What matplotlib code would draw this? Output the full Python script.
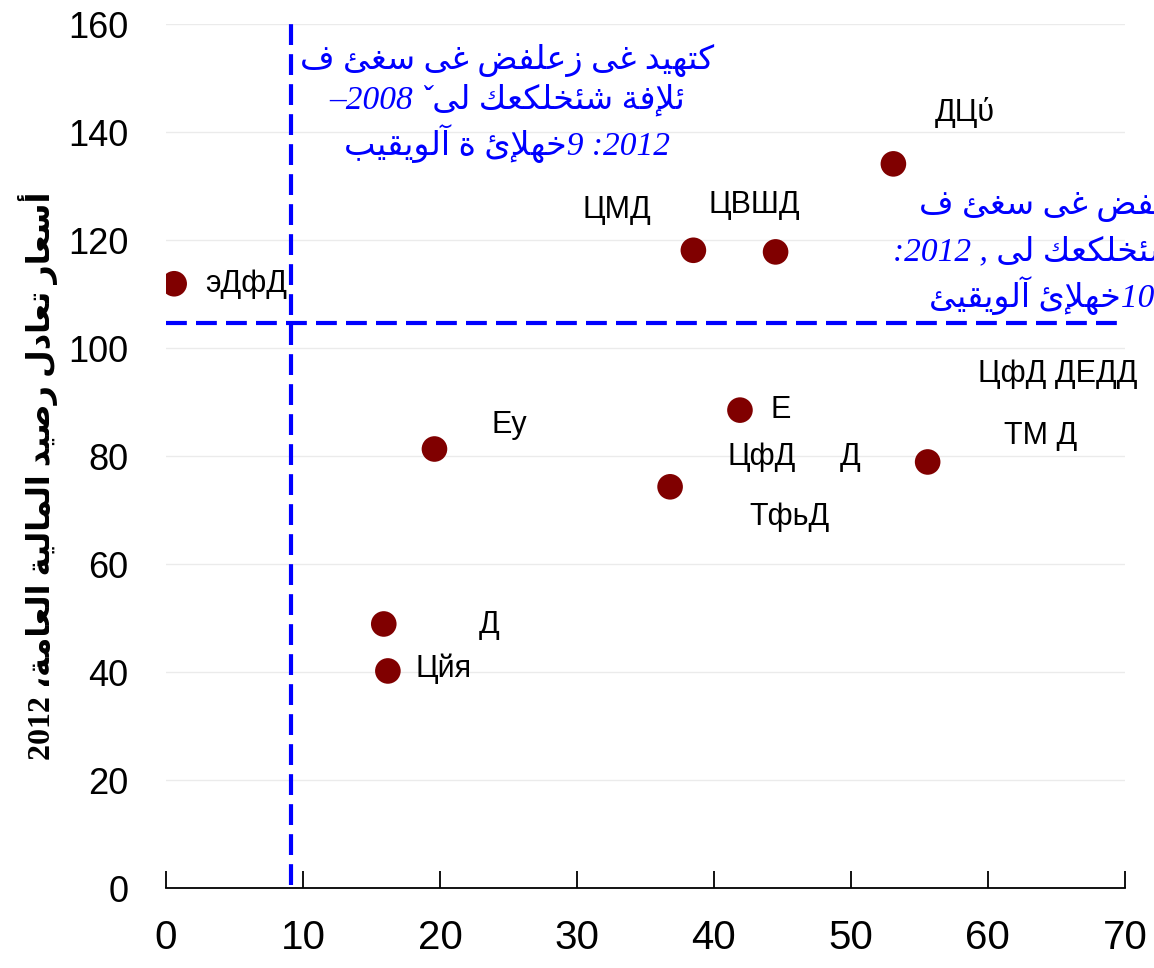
import re
import numpy as np
import matplotlib
matplotlib.use('Agg')
import matplotlib.pyplot as plt
from matplotlib import font_manager as fm

# points (x, y)
x_vals = [0.6, 19.6, 15.9, 16.2, 36.8, 38.5, 44.5, 41.9, 53.1, 55.6]
y_vals = [111.9, 81.3, 48.9, 40.2, 74.3, 118.1, 117.8, 88.5, 134.1, 78.9]

# point labels, as they show in the picture
lab_text = ['эДфД', 'Еу', 'Д', 'Цйя', 'ТфьД', 'ЦМД', 'ЦВШД', 'Е', 'ЦфД', 'Д',
            'ДЦύ', 'ЦфД ДЕДД', 'ТМ Д']
lab_x = [2.85, 23.8, 22.8, 18.2, 42.6, 30.4, 39.6, 44.1, 41.0, 49.2, 56.1, 59.3, 61.2]
lab_y = [111.9, 85.7, 48.7, 40.7, 68.7, 125.6, 126.5, 88.5, 79.8, 79.8, 143.7, 95.2, 83.7]

# reference lines
vline_x = 9.1
hline_y = 104.6

ylabel = 'أسعار تعادل رصيد المالية العامة، 2012'
ann1 = ['كتهيد غى زعلفض غى سغئ ف',
        'ئلإفة شئخلكعك لىˇ 2008–',
        '2012: 9خهلإئ ة آلويقيب']
ann2 = ['كتهيد غى زعلفض غى سغئ ف',
        'ئلإفة شئخلكعك لى , 2012:',
        '105خهلإئ آلويقيئ']

# arabic shaping (presentation forms B), no library for it here
ar_forms = {
    'آ': (0xFE81, 'R'), 'أ': (0xFE83, 'R'), 'ؤ': (0xFE85, 'R'), 'إ': (0xFE87, 'R'),
    'ئ': (0xFE89, 'D'), 'ا': (0xFE8D, 'R'), 'ب': (0xFE8F, 'D'), 'ة': (0xFE93, 'R'),
    'ت': (0xFE95, 'D'), 'ث': (0xFE99, 'D'), 'ج': (0xFE9D, 'D'), 'ح': (0xFEA1, 'D'),
    'خ': (0xFEA5, 'D'), 'د': (0xFEA9, 'R'), 'ذ': (0xFEAB, 'R'), 'ر': (0xFEAD, 'R'),
    'ز': (0xFEAF, 'R'), 'س': (0xFEB1, 'D'), 'ش': (0xFEB5, 'D'), 'ص': (0xFEB9, 'D'),
    'ض': (0xFEBD, 'D'), 'ط': (0xFEC1, 'D'), 'ظ': (0xFEC5, 'D'), 'ع': (0xFEC9, 'D'),
    'غ': (0xFECD, 'D'), 'ف': (0xFED1, 'D'), 'ق': (0xFED5, 'D'), 'ك': (0xFED9, 'D'),
    'ل': (0xFEDD, 'D'), 'م': (0xFEE1, 'D'), 'ن': (0xFEE5, 'D'), 'ه': (0xFEE9, 'D'),
    'و': (0xFEED, 'R'), 'ى': (0xFEEF, 'R'), 'ي': (0xFEF1, 'D'),
}
lam_alef = {'آ': 0xFEF5, 'أ': 0xFEF7, 'إ': 0xFEF9, 'ا': 0xFEFB}


def shape(s):
    out = []
    i = 0
    while i < len(s):
        c = s[i]
        if c not in ar_forms:
            out.append(c)
            i += 1
            continue
        p = s[i - 1] if i > 0 else ''
        jp = p in ar_forms and ar_forms[p][1] == 'D'
        if c == 'ل' and i + 1 < len(s) and s[i + 1] in lam_alef:
            out.append(chr(lam_alef[s[i + 1]] + int(jp)))
            i += 2
            continue
        n = s[i + 1] if i + 1 < len(s) else ''
        jn = ar_forms[c][1] == 'D' and n in ar_forms
        f = 3 if (jp and jn) else 1 if jp else 2 if jn else 0
        out.append(chr(ar_forms[c][0] + f))
        i += 1
    # right to left, numbers stay as they are
    runs = re.findall(r'[0-9]+|.', ''.join(out))
    return ''.join(runs[::-1])


# DejaVu Sans Oblique has no arabic: let the upright file serve italic text too
dv_path = fm.findfont(fm.FontProperties(family='DejaVu Sans'))
fm.fontManager.ttflist.append(fm.FontEntry(fname=dv_path, name='DejaVu Arabic Italic',
                                           style='italic', weight=400))

plt.rcParams['font.family'] = ['Liberation Sans', 'DejaVu Sans']
serif_ar = ['Liberation Serif', 'DejaVu Sans']
serif_ar_it = ['Liberation Serif', 'DejaVu Arabic Italic']

fig = plt.figure(figsize=(11.54, 9.68), dpi=100)
ax = fig.add_axes([0.1438, 0.0826, 0.8310, 0.8926])

ax.scatter(x_vals, y_vals, s=340, color='#800000', edgecolors='none', zorder=3)
for t, lx, ly in zip(lab_text, lab_x, lab_y):
    ax.text(lx, ly, t, fontsize=22, ha='left', va='center', color='black')

ax.axvline(vline_x, ymin=0.5 / 160, ymax=160.8 / 160, color='#0000ff', lw=3,
           linestyle=(0, (5, 2.2)), clip_on=False, zorder=2)
ax.axhline(hline_y, xmin=0, xmax=69.6 / 70, color='#0000ff', lw=3,
           linestyle=(0, (5, 2.2)), zorder=2)

ax.text(24.9, 145.3, '\n'.join(shape(l) for l in ann1), ha='center', va='center',
        multialignment='center', color='#0000ff', fontsize=24, style='italic',
        family=serif_ar_it, linespacing=1.25)
ann2_x = [55.0, 53.1, 55.7]
ann2_y = [126.4, 117.8, 109.8]
for l, tx, ty in zip(ann2, ann2_x, ann2_y):
    ax.text(tx, ty, shape(l), ha='left', va='center', color='#0000ff', fontsize=24,
            style='italic', family=serif_ar_it)

ax.set_xlim(0, 70)
ax.set_ylim(0, 160)
ax.set_xticks(np.arange(0, 71, 10))
ax.set_yticks(np.arange(0, 161, 20))
for sp in ['left', 'right', 'top']:
    ax.spines[sp].set_visible(False)
ax.spines['bottom'].set_linewidth(1.3)
ax.grid(axis='y', color='#ebebeb', lw=1)
ax.set_axisbelow(True)
ax.tick_params(axis='x', direction='in', length=12, width=1.3, pad=22, labelsize=29)
ax.tick_params(axis='y', length=0, pad=27, labelsize=26)

fig.text(0.033, 0.509, shape(ylabel), rotation=90, ha='center', va='center',
         fontsize=23, fontweight='bold', family=serif_ar)

fig.savefig('out.png', dpi=100)
